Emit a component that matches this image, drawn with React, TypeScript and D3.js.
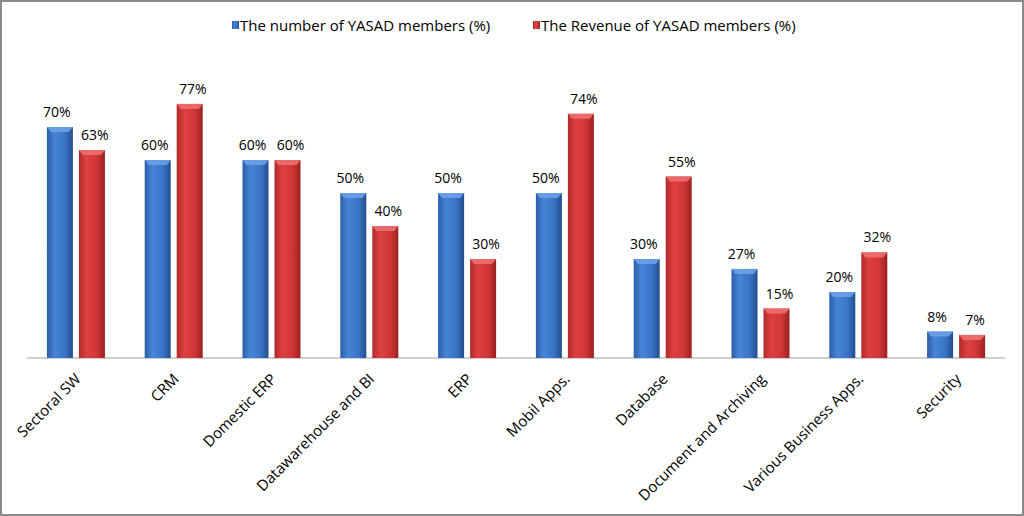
import React from "react";
import * as d3 from "d3";

const categories = [
  "Sectoral SW",
  "CRM",
  "Domestic ERP",
  "Datawarehouse and BI",
  "ERP",
  "Mobil Apps.",
  "Database",
  "Document and Archiving",
  "Various Business Apps.",
  "Security",
];
const numberMembers = [70, 60, 60, 50, 50, 50, 30, 27, 20, 8];
const revenueMembers = [63, 77, 60, 40, 30, 74, 55, 15, 32, 7];
const seriesNames = ["The number of YASAD members (%)", "The Revenue of YASAD members (%)"];

const W = 1024;
const H = 516;
const FONT = "'Open Sans', 'Noto Sans', sans-serif";

export default function App() {
  const x = d3.scaleBand<string>().domain(categories).range([27, 1005]);
  const y = d3.scaleLinear().domain([0, 100]).range([358, 28]);
  const bw = 26;
  const off = 16;
  const series = [
    { name: seriesNames[0], values: numberMembers, grad: "gBlue", top: "#6ea3ea" },
    { name: seriesNames[1], values: revenueMembers, grad: "gRed", top: "#ee7272" },
  ];
  return (
    <svg width={W} height={H} style={{ position: "absolute", left: 0, top: 0, background: "#fff" }}>
      <defs>
        <linearGradient id="gBlue" x1="0" x2="1" y1="0" y2="0">
          <stop offset="0" stopColor="#2d5ea8" />
          <stop offset="0.3" stopColor="#4584d6" />
          <stop offset="0.7" stopColor="#3a74c6" />
          <stop offset="1" stopColor="#224e8f" />
        </linearGradient>
        <linearGradient id="gRed" x1="0" x2="1" y1="0" y2="0">
          <stop offset="0" stopColor="#b22a2a" />
          <stop offset="0.3" stopColor="#de4040" />
          <stop offset="0.7" stopColor="#d03636" />
          <stop offset="1" stopColor="#9a2020" />
        </linearGradient>
      </defs>
      <rect x={1} y={1} width={W - 2} height={H - 2} fill="#fff" stroke="#8a8a8a" strokeWidth={2} />
      <g fontFamily={FONT} fontSize={15} fill="#000">
        <rect x={232} y={21} width={7} height={8} fill="url(#gBlue)" />
        <text x={240} y={31}>{seriesNames[0]}</text>
        <rect x={533} y={21} width={7} height={8} fill="url(#gRed)" />
        <text x={541} y={31}>{seriesNames[1]}</text>
      </g>
      <line x1={x.range()[0]} x2={x.range()[1]} y1={y(0)} y2={y(0)} stroke="#a0a0a0" strokeWidth={1} />
      {categories.map((c, i) => {
        const cx = (x(c) as number) + x.bandwidth() / 2;
        return (
          <g key={c}>
            {series.map((s, k) => {
              const v = s.values[i];
              const bx = cx + (k === 0 ? -off : off) - bw / 2;
              const by = y(v);
              const bh = y(0) - by;
              return (
                <g key={k}>
                  <rect x={bx} y={by} width={bw} height={bh} fill={`url(#${s.grad})`} />
                  <path
                    d={`M${bx},${by} L${bx + bw},${by} L${bx + bw - 4},${by + 5} L${bx + 4},${by + 5} Z`}
                    fill={s.top}
                    opacity={0.85}
                  />
                  <text
                    x={bx + bw / 2 - (k === 0 ? 3 : -3)}
                    y={by - 10}
                    textAnchor="middle"
                    fontFamily={FONT}
                    fontSize={14}
                    fill="#000"
                  >
                    {v}%
                  </text>
                </g>
              );
            })}
            <text
              transform={`translate(${cx + 6},${y(0) + 22}) rotate(-45)`}
              textAnchor="end"
              fontFamily={FONT}
              fontSize={15}
              fill="#000"
            >
              {c}
            </text>
          </g>
        );
      })}
    </svg>
  );
}
